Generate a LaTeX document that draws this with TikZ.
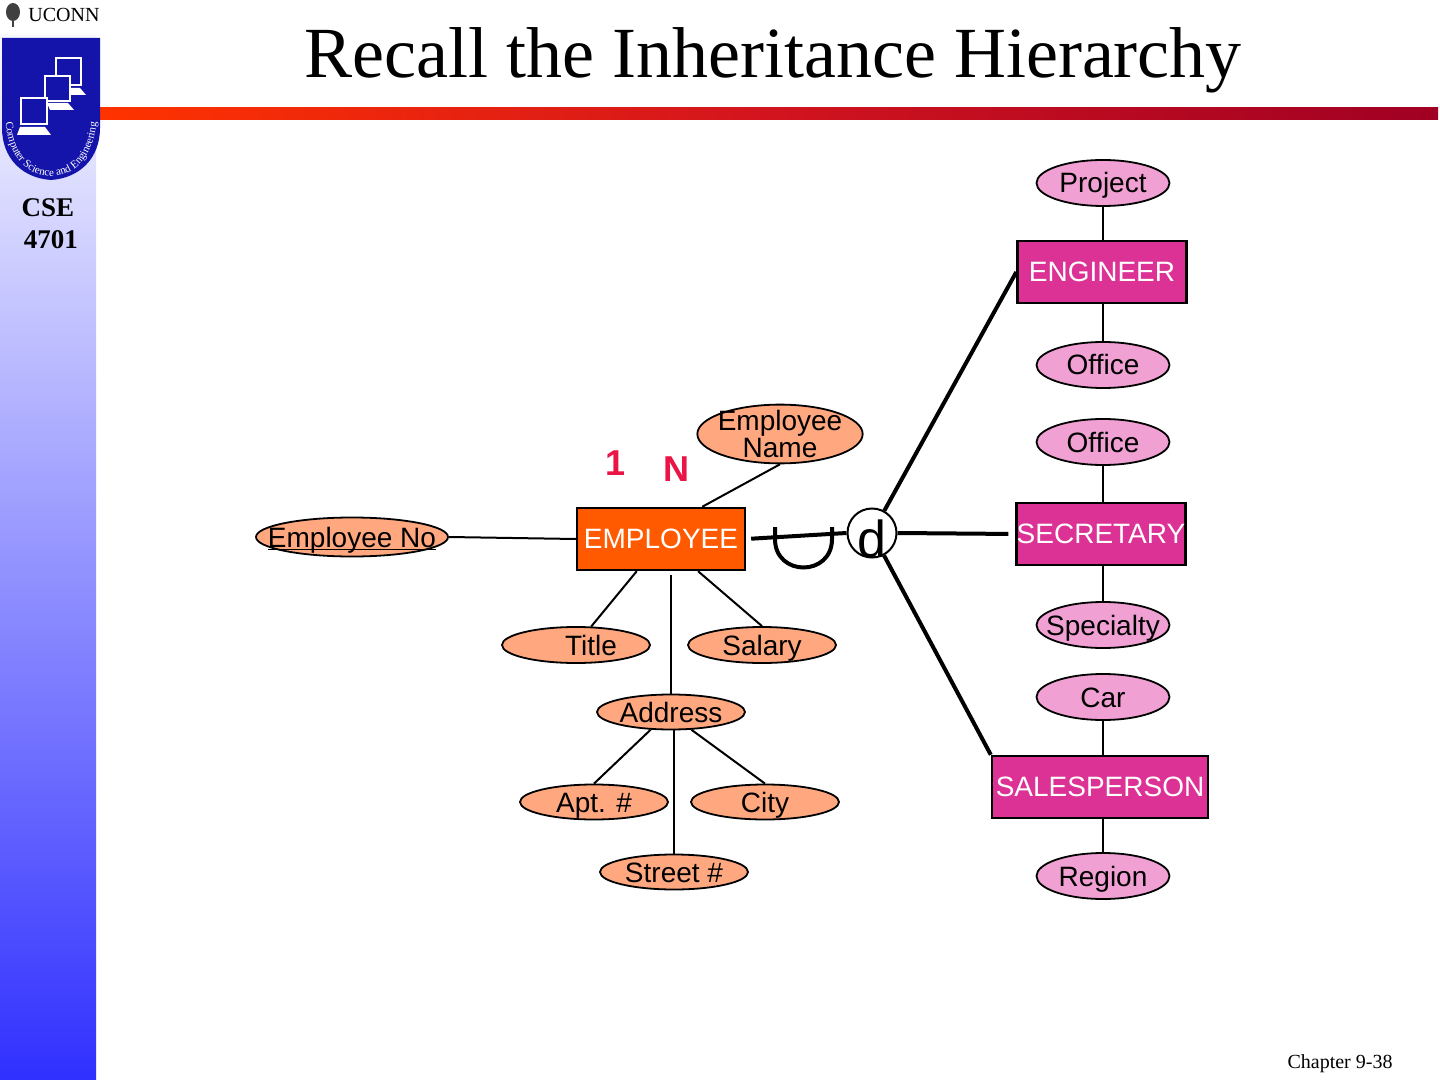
\documentclass[tikz,border=0pt]{standalone}
\usepackage{fontspec}
\setmainfont{Liberation Serif}
\setsansfont{Liberation Sans}
\usetikzlibrary{shapes.geometric,decorations.text}
\definecolor{emporange}{RGB}{255,90,0}
\definecolor{empattr}{RGB}{255,168,128}
\definecolor{submag}{RGB}{220,50,150}
\definecolor{subattr}{RGB}{240,160,210}
\definecolor{cardred}{RGB}{235,20,70}
\definecolor{shieldblue}{RGB}{20,20,170}
\definecolor{sidetop}{RGB}{255,255,255}
\definecolor{sidemid}{RGB}{170,170,252}
\definecolor{sidebot}{RGB}{48,48,255}
\definecolor{barleft}{RGB}{255,51,0}
\definecolor{barmid}{RGB}{210,20,30}
\definecolor{barright}{RGB}{160,0,35}
\begin{document}
\begin{tikzpicture}[x=0.5pt,y=-0.5pt,
    ent/.style={draw, line width=1.2pt, text=white,
      font=\sffamily\fontsize{14}{14}\selectfont,
      minimum width=84.5pt, minimum height=31pt, inner sep=0pt},
    thin text/.style={text height=#1, text depth=0pt,
      execute at begin node={\hbox to 0pt\bgroup\hss},
      execute at end node={\hss\egroup}},
    attrbase/.style={ellipse, draw, line width=0.9pt, fill=empattr,
      font=\sffamily\fontsize{14}{14}\selectfont, inner sep=0pt},
    eattr/.style={attrbase, thin text=10pt, minimum width=74pt, minimum height=18pt},
    sattr/.style={eattr, fill=subattr, minimum width=66.5pt, minimum height=23pt},
    card/.style={text=cardred, font=\sffamily\bfseries\fontsize{18}{18}\selectfont},
    isa/.style={line width=2pt},
    monitor/.style={fill=shieldblue, draw=white, line width=1.4pt}]
  \useasboundingbox (0,0) rectangle (1440,1080);
  \fill[white] (0,0) rectangle (1440,1080);
  % side strip and title bar
  \shade[top color=sidetop, middle color=sidemid, bottom color=sidebot]
    (0,0) rectangle (96,1080);
  \fill[white] (0,0) rectangle (100,34);
  \shade[left color=barleft, right color=barright, middle color=barmid]
    (100,108) rectangle (1438,120);
  % logo
  \fill[black!75] (13,12) ellipse (7 and 9);
  \draw[black!75, line width=1pt] (13,16) -- (13,27);
  \node[anchor=base west, inner sep=0pt, font=\fontsize{10}{10}\selectfont]
    (uconn) at (28,22) {UCONN};
  \fill[shieldblue] (2,38) -- (100,38) -- (100,128)
    .. controls (100,158) and (80,178) .. (51,180)
    .. controls (22,178) and (2,158) .. (2,128) -- cycle;
  \draw[monitor] (56,58) rectangle (81,85);
  \fill[white] (58,88) -- (80,88) -- (86,95) -- (60,95) -- cycle;
  \draw[monitor] (45,76) rectangle (70,101);
  \fill[white] (47,103) -- (68,103) -- (74,110) -- (50,110) -- cycle;
  \draw[monitor] (21,98) rectangle (47,124);
  \fill[white] (20,127) -- (45,127) -- (51,135) -- (17,135) -- cycle;
  \path[decorate, decoration={text along path, text color=white, text align=center,
      text={|\fontsize{5.5}{5.5}\selectfont|Computer Science and Engineering}}]
    (5,110) .. controls (5,150) and (22,176) .. (51,176)
    .. controls (80,176) and (97,150) .. (97,110);
  \node[anchor=base, font=\bfseries\fontsize{13.5}{13.5}\selectfont] (cse) at (48,217) {CSE};
  \node[anchor=base, font=\bfseries\fontsize{13.5}{13.5}\selectfont] (course) at (51,249) {4701};
  % title and page
  \node[anchor=base, font=\fontsize{36}{36}\selectfont] (head) at (773,78)
    {Recall the Inheritance Hierarchy};
  \node[anchor=base, font=\fontsize{10}{10}\selectfont] (page) at (1340,1068) {Chapter 9-38};
  % entities
  \node[ent, fill=emporange, minimum width=84pt] (emp) at (661,539) {EMPLOYEE};
  \node[ent, fill=submag] (eng) at (1102,272) {ENGINEER};
  \node[ent, fill=submag] (sec) at (1101,534) {SECRETARY};
  \node[ent, fill=submag, minimum width=108pt] (sal) at (1100,787) {SALESPERSON};
  \node[circle, draw, line width=1pt, minimum size=24.5pt, inner sep=0pt, thin text=24pt,
    font=\sffamily\fontsize{26}{26}\selectfont] (dis) at (872,533) {d};
  % attributes
  \node[eattr, minimum width=96pt, minimum height=19.5pt] (empno) at (352,537)
    {\underline{\smash{Employee No}}};
  \node[attrbase, align=center, inner xsep=-1.9pt, inner ysep=-1.5pt,
    font=\sffamily\fontsize{14}{13.5}\selectfont] (ename) at (780,434) {Employee\\Name};
  \node[eattr] (title) at (576,645) {\hspace*{15pt}Title};
  \node[eattr] (salary) at (762,645) {Salary};
  \node[eattr, minimum height=17.5pt] (addr) at (671,712) {Address};
  \node[eattr, minimum height=17.5pt] (apt) at (594,802) {Apt. \#};
  \node[eattr, minimum height=17.5pt] (city) at (765,802) {City};
  \node[eattr, minimum height=17.5pt] (street) at (674,872) {Street \#};
  \node[sattr] (proj) at (1103,183) {Project};
  \node[sattr] (engoff) at (1103,365) {Office};
  \node[sattr] (secoff) at (1103,442) {Office};
  \node[sattr] (spec) at (1103,625) {Specialty};
  \node[sattr] (car) at (1103,697) {Car};
  \node[sattr] (region) at (1103,876) {Region};
  \node[card] (one) at (616,463) {1};
  \node[card] (many) at (676,469) {N};
  % attribute links
  \begin{scope}[line width=1pt]
    \draw (empno.east) to (emp.west);
    \draw (ename.south) to (emp.38);
    \draw (emp.233) to (title);
    \draw (emp.319) to (salary.north);
    \draw[shorten <=2pt] (addr.north |- emp.south) to (addr.north);
    \draw (addr.221) to (apt.north);
    \draw (addr.319) to (city.north);
    \draw (street.north |- addr.south) to (street.north);
    \draw (proj.south) to (eng.north -| proj.south);
    \draw (eng.south -| engoff.north) to (engoff.north);
    \draw (secoff.south) to (sec.north -| secoff.south);
    \draw (sec.south -| spec.north) to (spec.north);
    \draw (car.south) to (sal.north -| car.south);
    \draw (sal.south -| region.north) to (region.north);
  \end{scope}
  % specialization
  \begin{scope}[isa]
    \draw[shorten <=2.5pt] (emp.east) to (dis.west);
    \draw (775,527) -- (775,539) .. controls (775,577) and (832,577) .. (832,539) -- (832,527);
    \draw (dis) to (eng.west);
    \draw[shorten >=3.5pt] (dis.east) to (sec.west);
    \draw (dis) to (sal.north west);
  \end{scope}
\end{tikzpicture}
\end{document}
